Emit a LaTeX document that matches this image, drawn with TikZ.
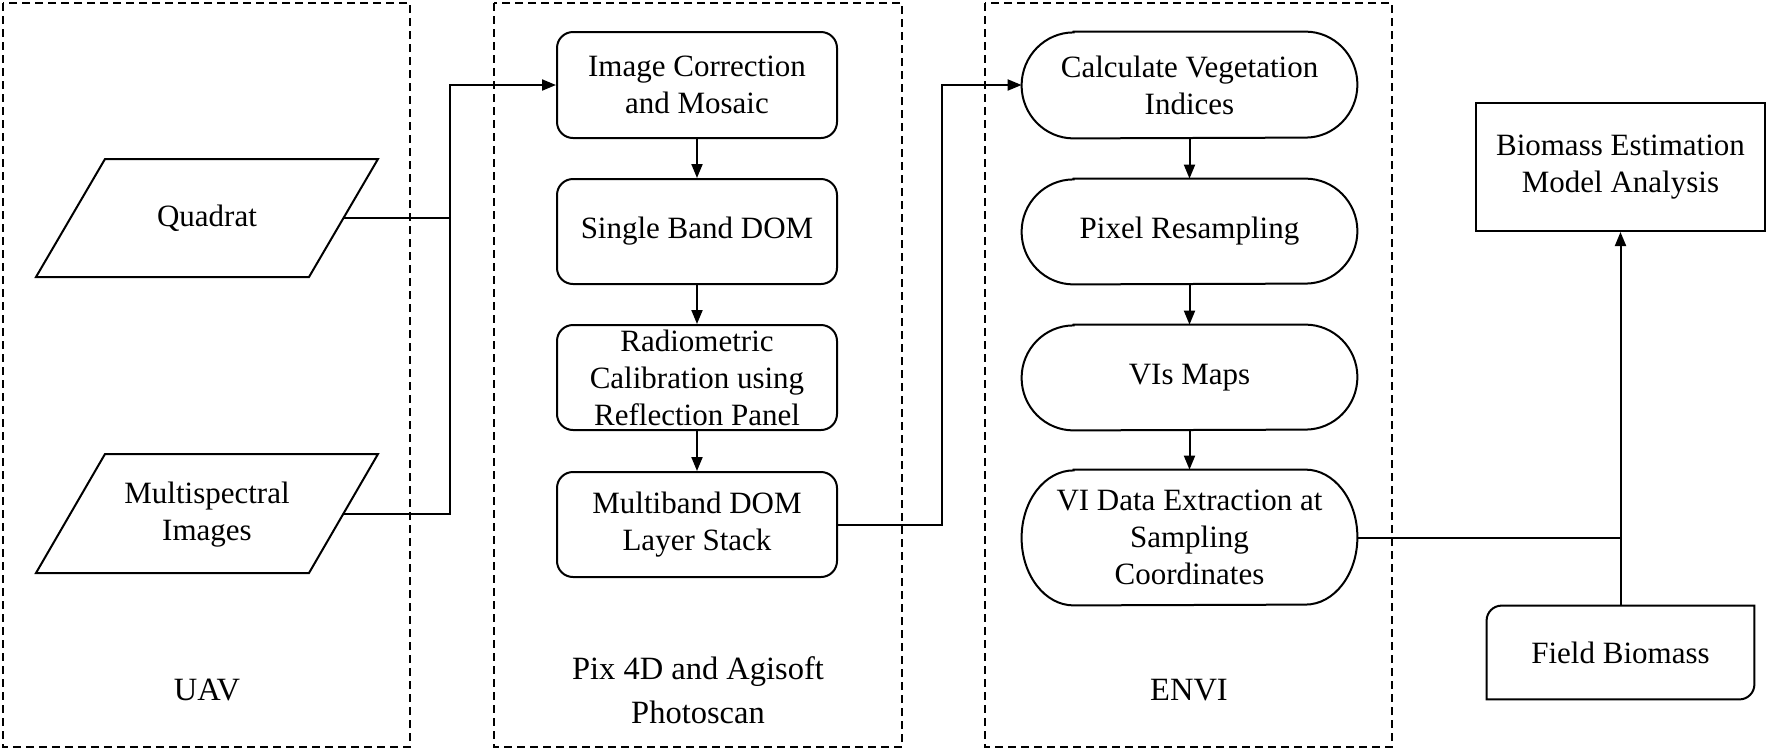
\documentclass[tikz,border=0pt]{standalone}
\usepackage{fontspec}
\setmainfont{Liberation Serif}
\usetikzlibrary{arrows.meta}
\begin{document}
\begin{tikzpicture}[x=0.5pt,y=-0.5pt]
\tikzset{
  txt/.style={font=\fontsize{15.5}{18.5}\selectfont, align=center, inner sep=0pt},
  pbox/.style={txt, draw, line width=1pt, rounded corners=8pt, minimum width=140pt, minimum height=52.5pt},
  env/.style={txt, minimum width=167.5pt},
  lbl/.style={font=\fontsize{16.25}{22}\selectfont, align=center, inner sep=0pt},
  grp/.style={draw, line width=1pt, dash pattern=on 4pt off 2.5pt},
  conn/.style={line width=1pt},
  arr/.style={conn, -{Triangle[length=7pt,width=5.5pt]}},
}
\useasboundingbox (0,0) rectangle (1769,752);

% group frames
\draw[grp] (3,3) rectangle (410,747);
\draw[grp] (494,3) rectangle (902,747);
\draw[grp] (985,3) rectangle (1392,747);

% group labels
\node[lbl] (luav) at (207,690) {UAV};
\node[lbl] (lpix) at (698,690) {Pix 4D and Agisoft\\Photoscan};
\node[lbl] (lenvi) at (1189,690) {ENVI};

% UAV inputs (parallelograms)
\draw[conn] (105,159) -- (378,159) -- (309,277) -- (36,277) -- cycle;
\node[txt] (quad) at (207,218) {Quadrat};
\coordinate (qR) at (343.5,218);
\draw[conn] (105,454) -- (378,454) -- (309,573) -- (36,573) -- cycle;
\node[txt] (msi) at (207,515) {Multispectral\\Images};
\coordinate (mR) at (343.5,513.5);

% Pix4D column
\node[pbox, minimum height=53pt] (ic) at (697,85) {Image Correction\\and Mosaic};
\node[pbox] (sb) at (697,231.5) {Single Band DOM};
\node[pbox] (rc) at (697,377.5) {Radiometric\\Calibration using\\Reflection Panel};
\node[pbox] (mb) at (697,524.5) {Multiband DOM\\Layer Stack};

% ENVI column
\node[env, minimum height=53pt] (cv) at (1189.5,85) {Calculate Vegetation\\Indices};
\node[env, minimum height=52.5pt] (pr) at (1189.5,231.5) {Pixel Resampling};
\node[env, minimum height=52.5pt] (vm) at (1189.5,377.5) {VIs Maps};
\node[env, minimum height=67.5pt] (vd) at (1189.5,537.5) {VI Data Extraction at\\Sampling\\Coordinates};
\foreach \n/\ry in {cv/26.5, pr/26.25, vm/26.25, vd/33.75}{
  \draw[conn] ([xshift=26pt]\n.north west) -- ([xshift=-26pt]\n.north east)
    arc[start angle=90, end angle=-90, x radius=26pt, y radius=\ry pt]
    -- ([xshift=26pt]\n.south west)
    arc[start angle=270, end angle=90, x radius=26pt, y radius=\ry pt] -- cycle;
}

% right side
\node[txt, draw, line width=1pt, minimum width=144.5pt, minimum height=64pt] (bm) at (1620.5,167) {Biomass Estimation\\Model Analysis};
\node[txt, minimum width=133.5pt, minimum height=46.5pt] (fb) at (1620.5,652.5) {Field Biomass};
\draw[conn] ([xshift=7.5pt]fb.north west) -- (fb.north east) -- ([yshift=7.5pt]fb.south east)
  arc[start angle=0, end angle=-90, radius=7.5pt] -- (fb.south west) -- ([yshift=-7.5pt]fb.north west)
  arc[start angle=180, end angle=90, radius=7.5pt] -- cycle;

% connectors
\coordinate (j1) at (450,300);
\coordinate (j2) at (942,300);
\draw[conn] (qR) -- (qR -| j1);
\draw[arr] (mR) -| (j1 |- ic.west) -- (ic.west);
\draw[arr] (ic.south) -- (sb.north);
\draw[arr] (sb.south) -- (rc.north);
\draw[arr] (rc.south) -- (mb.north);
\draw[arr] (mb.east) -| (j2 |- cv.west) -- (cv.west);
\draw[arr] (cv.south) -- (pr.north);
\draw[arr] (pr.south) -- (vm.north);
\draw[arr] (vm.south) -- (vd.north);
\draw[conn] (vd.east) -- (vd.east -| fb.north);
\draw[arr] (fb.north) -- (bm.south);
\end{tikzpicture}
\end{document}
